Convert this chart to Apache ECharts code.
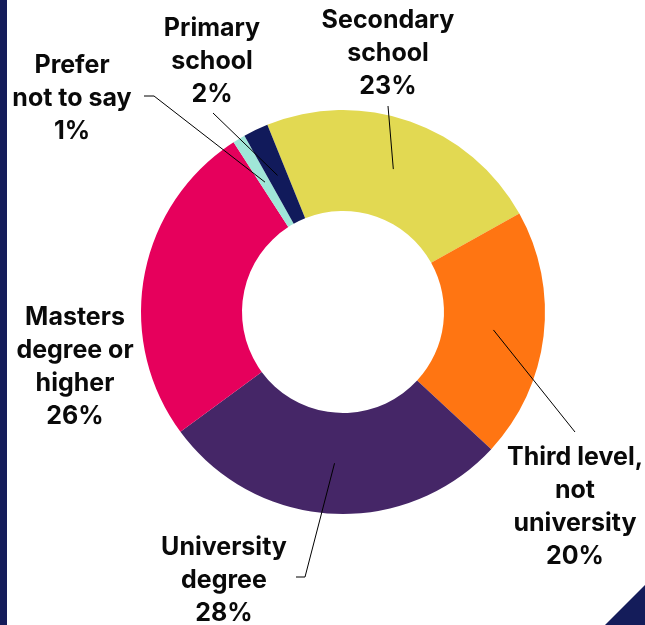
<!DOCTYPE html>
<html>
<head>
<meta charset="utf-8">
<title>Education level</title>
<script src="https://cdn.jsdelivr.net/npm/echarts@6/dist/echarts.min.js"></script>
<style>
  html, body { margin: 0; padding: 0; background: #ffffff; }
  #chart { width: 645px; height: 625px; }
</style>
</head>
<body>
<div id="chart"></div>
<script>
// Highest level of education, share of respondents (%)
const categories = [
  'Secondary\nschool',
  'Third level,\nnot\nuniversity',
  'University\ndegree',
  'Masters\ndegree or\nhigher',
  'Prefer\nnot to say',
  'Primary\nschool'
];
const shares = [23, 20, 28, 26, 1, 2];
const sliceColors = ['#e2d952', '#ff7512', '#452667', '#e6005c', '#a0e6d8', '#111a5b'];

// Label centres and callout elbows (pixels); null elbow = no callout
const labelSpots = [
  { x: 388, y: 53,  elbow: [[388, 106]] },
  { x: 575, y: 507, elbow: [[575, 432]] },
  { x: 224, y: 580, elbow: [[305, 577], [296, 577]] },
  { x: 75,  y: 367, elbow: null },
  { x: 72,  y: 98,  elbow: [[154, 96], [144, 96]] },
  { x: 212, y: 61,  elbow: [[213, 113]] }
];

const CX = 343, CY = 312, R_IN = 101, R_OUT = 202, START = 112;
const total = shares.reduce((a, b) => a + b, 0);

// point in the middle of the ring, at the mid angle of slice i
function ringMid(i) {
  let before = 0;
  for (let k = 0; k < i; k++) before += shares[k];
  const deg = START - (before + shares[i] / 2) / total * 360;
  const rad = deg * Math.PI / 180;
  const r = (R_IN + R_OUT) / 2;
  return [CX + r * Math.cos(rad), CY - r * Math.sin(rad)];
}

const pieData = categories.map((name, i) => ({ name: name, value: shares[i] }));

const chart = echarts.init(document.getElementById('chart'), null, { renderer: 'canvas' });

chart.setOption({
  backgroundColor: '#ffffff',
  animation: false,
  graphic: [
    { type: 'rect', left: 0, top: 0, shape: { width: 7, height: 625 }, style: { fill: '#141c5a' } },
    { type: 'polygon', shape: { points: [[605, 625], [645, 585], [645, 625]] }, style: { fill: '#141c5a' } }
  ],
  series: [
    // coloured ring
    {
      type: 'pie',
      z: 2,
      center: [CX, CY],
      radius: [R_IN, R_OUT],
      startAngle: START,
      clockwise: true,
      silent: true,
      itemStyle: { borderWidth: 0 },
      label: { show: false },
      labelLine: { show: false },
      data: pieData.map((d, i) => ({ ...d, itemStyle: { color: sliceColors[i] } }))
    },
    // labels and callouts, drawn above the ring
    {
      type: 'pie',
      z: 5,
      center: [CX, CY],
      radius: [R_IN, R_OUT],
      startAngle: START,
      clockwise: true,
      silent: true,
      avoidLabelOverlap: false,
      itemStyle: { color: 'rgba(0,0,0,0)', borderWidth: 0 },
      label: {
        show: true,
        position: 'outside',
        formatter: '{b}\n{d}%',
        color: '#0a0a0a',
        fontFamily: 'Inter',
        fontWeight: 'bold',
        fontSize: 25,
        lineHeight: 33,
        align: 'center'
      },
      labelLine: {
        show: true,
        smooth: false,
        lineStyle: { color: '#000000', width: 1 }
      },
      labelLayout: function (params) {
        const spot = labelSpots[params.dataIndex];
        const out = { x: spot.x, y: spot.y, align: 'center', verticalAlign: 'middle' };
        if (spot.elbow) {
          out.labelLinePoints = [ringMid(params.dataIndex)].concat(spot.elbow);
        }
        return out;
      },
      data: pieData.map((d, i) => ({ ...d, labelLine: { show: labelSpots[i].elbow !== null } }))
    }
  ]
});
</script>
</body>
</html>
